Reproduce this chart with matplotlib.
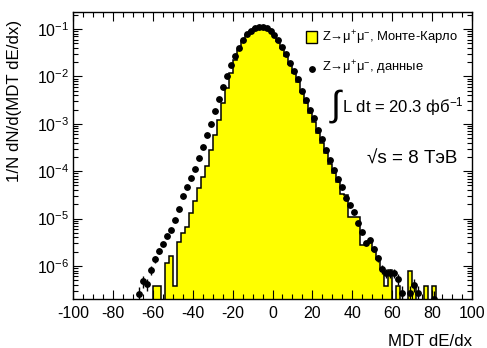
import matplotlib
matplotlib.use("Agg")
import matplotlib.pyplot as plt
from matplotlib.ticker import MultipleLocator, LogLocator, NullFormatter, FixedLocator
import numpy as np

plt.rcParams['font.family'] = ['Liberation Sans', 'DejaVu Sans']
plt.rcParams['mathtext.fontset'] = 'custom'
plt.rcParams['mathtext.rm'] = 'Liberation Sans'
plt.rcParams['mathtext.it'] = 'Liberation Sans:italic'
plt.rcParams['axes.unicode_minus'] = False

# Монте-Карло: гистограмма, бины шириной 2 от -60 до 82
mc_first_edge = -60
mc_vals = [
    3.8e-7, 3.8e-7, 0, 1.17e-6, 1.6e-6, 3.8e-7, 3.2e-6, 5.0e-6, 6.8e-6, 1.29e-5,   # -60..-40
    2.3e-5, 4.4e-5, 7.4e-5, 1.29e-4, 2.8e-4, 5.8e-4, 1.2e-3, 2.7e-3, 5.6e-3, 1.17e-2,  # -40..-20
    2.2e-2, 3.6e-2, 5.5e-2, 7.6e-2, 9.2e-2, 0.104, 0.11, 0.11, 0.103, 0.09,          # -20..0
    0.073, 0.056, 0.039, 0.027, 0.018, 0.0118, 7.6e-3, 4.6e-3, 2.8e-3, 1.7e-3,       # 0..20
    1.1e-3, 6.4e-4, 4.0e-4, 2.4e-4, 1.45e-4, 9.0e-5, 5.8e-5, 3.3e-5, 3.2e-5, 1.1e-5,  # 20..40
    1.1e-5, 1.1e-5, 2.8e-6, 2.8e-6, 3.2e-6, 2.2e-6, 1.4e-6, 8.7e-7, 3.8e-7, 8.3e-7,  # 40..60
    0, 3.8e-7, 0, 0, 7.9e-7, 3.8e-7, 0, 0, 3.8e-7, 0,                                # 60..80
    3.8e-7,                                                                          # 80..82
]

# Данные: центры бинов и значения
data_x = [-67, -65, -63, -61, -59, -57, -55, -53, -51, -49,
          -47, -45, -43, -41, -39, -37, -35, -33, -31, -29,
          -27, -25, -23, -21, -19, -17, -15, -13, -11, -9,
          -7, -5, -3, -1, 1, 3, 5, 7, 9, 11,
          13, 15, 17, 19, 21, 23, 25, 27, 29, 31,
          33, 35, 37, 39, 41, 43, 45, 47, 49, 51,
          53, 55, 57, 59, 61, 63, 65, 69, 71, 73, 81]
data_y = [2.6e-7, 4.8e-7, 4.2e-7, 8.3e-7, 1.4e-6, 2.1e-6, 2.9e-6, 4.3e-6, 5.7e-6, 9.5e-6,
          1.6e-5, 3.0e-5, 4.6e-5, 7.1e-5, 1.12e-4, 1.9e-4, 3.3e-4, 5.7e-4, 1.0e-3, 1.86e-3,
          3.3e-3, 5.9e-3, 1.02e-2, 1.74e-2, 2.75e-2, 4.0e-2, 5.9e-2, 7.7e-2, 9.2e-2, 0.105,
          0.112, 0.112, 0.105, 0.092, 0.075, 0.058, 0.041, 0.029, 0.0194, 0.0130,
          8.7e-3, 5.0e-3, 3.2e-3, 1.95e-3, 1.32e-3, 7.4e-4, 4.7e-4, 2.8e-4, 1.74e-4, 1.07e-4,
          6.9e-5, 4.7e-5, 2.75e-5, 1.95e-5, 1.41e-5, 7.9e-6, 5.2e-6, 3.1e-6, 3.5e-6, 2.3e-6,
          1.45e-6, 8.5e-7, 7.1e-7, 7.1e-7, 7.1e-7, 5.4e-7, 2.75e-7, 2.75e-7, 4.0e-7, 2.75e-7, 2.05e-7]

y_ticks = [1e-6, 1e-5, 1e-4, 1e-3, 1e-2, 1e-1]

# примерный вес одного события (для статистических ошибок)
event_weight = 3.6e-8

floor = 1e-10
mc_plot = np.where(np.array(mc_vals) > 0, mc_vals, floor)
edges = mc_first_edge + 2 * np.arange(len(mc_vals) + 1)
dy = np.sqrt(np.array(data_y) * event_weight)

fig = plt.figure(figsize=(4.87, 3.48), dpi=100)
ax = fig.add_axes([73 / 487, 1 - 299 / 348, (472 - 73) / 487, (299 - 12) / 348])

ax.stairs(mc_plot, edges, baseline=floor, fill=True, color='#ffff00', lw=0)
ax.stairs(mc_plot, edges, baseline=floor, fill=False, color='black', lw=1.1)
ax.errorbar(data_x, data_y, yerr=dy, fmt='o', color='black', ms=3.9,
            elinewidth=1.0, capsize=0, zorder=5)

ax.set_yscale('log')
ax.set_xlim(-100, 100)
ax.set_ylim(2.01e-7, 0.2286)

ax.xaxis.set_major_locator(MultipleLocator(20))
ax.xaxis.set_minor_locator(MultipleLocator(5))
ax.yaxis.set_major_locator(FixedLocator(y_ticks))
ax.yaxis.set_minor_locator(LogLocator(base=10, subs=np.arange(2, 10), numticks=20))
ax.yaxis.set_minor_formatter(NullFormatter())

ax.tick_params(which='both', direction='in', top=True, right=True, labelsize=11.5, width=0.8)
ax.tick_params(which='major', length=6.5)
ax.tick_params(which='minor', length=3.5)
ax.tick_params(axis='x', pad=5)
ax.tick_params(axis='y', pad=3)
for sp in ax.spines.values():
    sp.set_linewidth(1.0)

fig.text(15 / 487, 1 - 20 / 348, '1/N dN/d(MDT dE/dx)', rotation=90,
         ha='center', va='top', fontsize=12.2)
fig.text(472 / 487, 1 - 341 / 348, 'MDT dE/dx', ha='right', va='center', fontsize=12.2)

# легенда
ax.add_patch(plt.Rectangle((306 / 487, 1 - 43 / 348), 11 / 487, 12 / 348,
                           transform=fig.transFigure, facecolor='#ffff00',
                           edgecolor='black', lw=1.0, clip_on=False))
fig.text(322 / 487, 1 - 38 / 348, 'Z→μ$^{+}$μ$^{-}$, Монте-Карло', ha='left', va='center',
         fontsize=9.4)
fig.lines.append(plt.Line2D([312 / 487], [1 - 69 / 348], marker='o', ms=3.9, color='black',
                            transform=fig.transFigure))
fig.text(322 / 487, 1 - 68 / 348, 'Z→μ$^{+}$μ$^{-}$, данные', ha='left', va='center',
         fontsize=9.4)

fig.text(336 / 487, 1 - 106 / 348, '∫', ha='center', va='center', fontsize=26)
fig.text(342 / 487, 1 - 107 / 348, 'L dt = 20.3 фб$^{-1}$', ha='left', va='center',
         fontsize=12.0)
fig.text(367 / 487, 1 - 159 / 348, '√s = 8 ТэВ', ha='left', va='center', fontsize=13.6)

fig.savefig('out.png', dpi=100)
